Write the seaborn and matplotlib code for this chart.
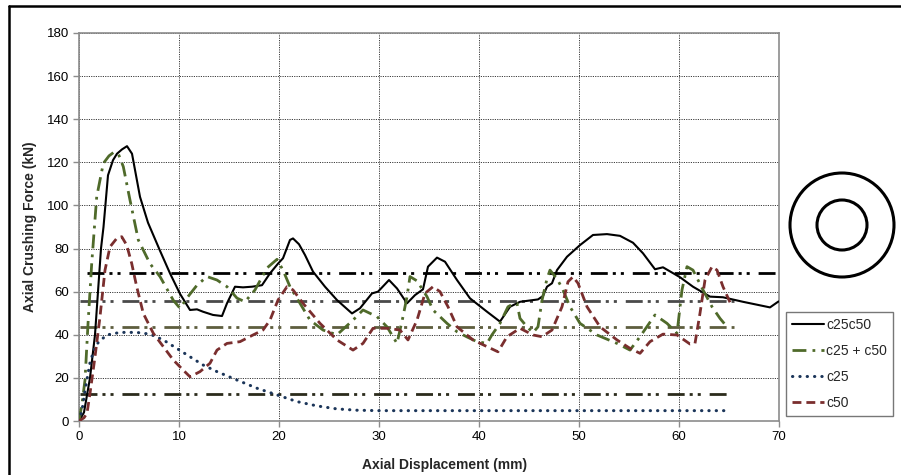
import matplotlib
matplotlib.use("Agg")
import matplotlib.pyplot as plt
import seaborn as sns
import pandas as pd
from matplotlib.lines import Line2D
from matplotlib.patches import Circle

# ---------------- data ----------------
c25c50_x = [0, 0.5, 0.8, 1.1, 1.6, 1.9, 2.2, 2.45, 2.9, 3.4, 3.8, 4.3, 4.8, 5.3, 6.1, 6.9, 8.1, 9.1,
            10.1, 11.1, 11.8, 12.4, 13.4, 14.3, 14.8, 15.6, 16.4, 17.3, 18.3, 19.1, 19.9, 20.4, 21.1,
            21.4, 22.0, 22.6, 23.4, 24.6, 25.8, 27.3, 28.1, 29.3, 29.9, 31.0, 31.8, 32.8, 33.6, 34.4,
            34.9, 35.8, 36.6, 37.8, 39.1, 40.8, 42.1, 43.1, 44.1, 45.9, 46.4, 46.8, 47.3, 47.8, 48.8,
            50.1, 51.4, 52.8, 54.1, 55.4, 56.4, 57.6, 58.4, 60.1, 61.4, 63.1, 64.4, 66.4, 69.1, 69.9, 70.0]
c25c50_y = [0, 4, 12, 20, 40, 60, 80, 90, 114, 121, 124, 126, 127.5, 124, 104, 92, 79, 68.5,
            59, 51.5, 51.8, 50.7, 49.2, 48.7, 54.6, 62.3, 62, 62.3, 63, 68.5, 73, 75.5, 84,
            84.7, 82, 77, 69.3, 62.3, 56.1, 49.9, 52.3, 59.2, 60, 65.4, 61.5, 54.6, 58.4, 61.1,
            71.6, 75.8, 73.9, 65.4, 56.9, 50.7, 46.1, 53, 55.3, 56.4, 58, 62.3, 63.9, 70, 76.2,
            81.6, 86.3, 86.7, 85.9, 82.7, 77.8, 70.4, 71.3, 66.7, 62.3, 57.7, 57.4, 55.3, 52.7, 55.3, 55.5]

sum_x = [0, 0.3, 0.6, 0.9, 1.27, 1.77, 2.43, 3.0, 3.43, 3.93, 4.43, 5.1, 5.93, 7.1, 8.1, 9.43, 10.1,
         10.9, 11.8, 12.8, 13.8, 14.8, 15.8, 16.6, 17.6, 18.8, 19.8, 20.4, 21.1, 22.1, 23.1, 24.4,
         25.8, 27.4, 28.4, 29.8, 30.8, 31.8, 32.4, 32.8, 33.1, 33.8, 34.8, 35.4, 36.8, 37.8, 38.8,
         39.8, 40.8, 41.3, 42.1, 42.9, 43.3, 43.8, 44.1, 44.8, 45.4, 45.9, 46.3, 46.8, 47.1, 47.8,
         48.4, 49.1, 50.1, 51.8, 53.8, 55.1, 56.1, 57.6, 58.8, 59.8, 60.3, 60.8, 61.4, 62.4, 63.3,
         64.1, 64.8]
sum_y = [0, 8, 19, 45, 73, 104, 119.5, 123, 124.5, 124, 118, 102.5, 84, 73, 67, 56, 52.3,
         57.7, 63, 67, 65.4, 62.3, 57, 55.3, 60.8, 71, 75, 70, 62.3, 54.6, 46.8, 42.2,
         40, 46.8, 51.5, 48.4, 43.7, 36, 48.4, 57.7, 67, 65, 57.7, 51.5, 45.3, 41.4, 39,
         36.8, 36, 40, 45.3, 53, 54, 54.6, 47.6, 43.7, 41, 43.7, 56, 66, 70, 66,
         60.8, 53, 45.3, 39.9, 36, 32.9, 39.1, 49.2, 45.3, 40.7, 60.8, 71.6, 70, 60.8, 53,
         47.6, 43.7]

c25_x = [0, 0.3, 0.6, 0.9, 1.1, 1.5, 1.93, 2.77, 4.1, 5.77, 7.1, 8.43, 9.77, 11.1, 12.4, 13.8,
         15.8, 17.8, 19.8, 21.8, 23.8, 25.8, 27.8, 30, 35, 40, 45, 50, 55, 60, 64.8]
c25_y = [0, 5, 14, 22, 27, 33, 36.5, 39.9, 41.1, 41.1, 40.3, 37.6, 33.7, 29.8, 26, 22.9,
         19, 15.2, 12.1, 9, 7, 5.6, 5, 4.8, 4.8, 4.8, 4.8, 4.8, 4.8, 4.8, 4.8]

c50_x = [0, 0.5, 0.8, 1.1, 1.6, 2.1, 2.6, 3.1, 3.77, 4.27, 4.77, 5.27, 5.77, 6.43, 7.43, 8.43, 9.43,
         10.4, 11.1, 12.1, 13.1, 13.8, 14.8, 16.1, 17.4, 18.4, 19.1, 19.9, 20.8, 21.4, 22.4, 24.1,
         25.8, 27.4, 28.4, 29.4, 30.8, 32.1, 32.9, 33.8, 34.6, 35.4, 36.1, 36.9, 37.8, 39.4, 40.8,
         41.9, 42.8, 44.1, 45.4, 46.3, 47.3, 48.3, 48.9, 49.4, 49.9, 50.8, 52.1, 53.8, 55.1, 56.1,
         57.1, 58.4, 59.8, 61.1, 61.6, 62.1, 62.6, 63.3, 63.8, 64.4, 65.3]
c50_y = [0, 1.5, 3.6, 12.8, 29.8, 48.4, 70, 80.8, 84.7, 85.5, 81.6, 73.1, 62.3, 49.9, 40.7, 34.5, 28.3,
         23.7, 20.5, 22.9, 26.8, 32.9, 36, 36.8, 39.9, 42.2, 46.8, 56.1, 62.3, 60.8, 54.6, 45.3,
         37.6, 32.9, 36, 43, 43, 42.2, 37.6, 46.8, 59.2, 62.3, 60, 53, 43.7, 37.6, 34.5,
         32.1, 39.1, 43, 39.9, 39.1, 42.2, 53, 64.6, 66.9, 63.9, 53, 43.7, 37.6, 33.7, 31.4,
         36.8, 40.3, 39.9, 35.7, 36, 50, 65.4, 71.6, 70, 62.3, 53]

# mean force levels (kN) and their x extents (mm)
mean_levels = [68.5, 55.5, 43.5, 12.5]
mean_start = [0.8, 0.1, 0.1, 0.1]
mean_end = [70.0, 65.5, 65.5, 65.0]

series_labels = ["c25c50", "c25 + c50", "c25", "c50"]
x_ticks = [0, 10, 20, 30, 40, 50, 60, 70]
y_ticks = [0, 20, 40, 60, 80, 100, 120, 140, 160, 180]

# ---------------- style ----------------
sns.set_theme(style="white")
plt.rcParams["font.family"] = ["Liberation Sans", "DejaVu Sans"]

W, H = 901, 475
fig = plt.figure(figsize=(W / 100, H / 100), dpi=100)
fig.patch.set_facecolor("white")
ax = fig.add_axes([79 / W, 1 - 421 / H, 700 / W, 388 / H])
ax.set_facecolor("white")

# mean lines
mean_colors = ["#000000", "#4a4a4a", "#5e5e3e", "#2b2b1c"]
dashdotdot = (0, (6.1, 1.8, 1.1, 1.8, 1.1, 3.2))
for lvl, xs, xe, col in zip(mean_levels, mean_start, mean_end, mean_colors):
    d = pd.DataFrame({"x": [xs, xe], "y": [lvl, lvl]})
    sns.lineplot(data=d, x="x", y="y", ax=ax, color=col, lw=2.0,
                 linestyle=dashdotdot, legend=False, zorder=2, estimator=None)

styles = [
    dict(color="#000000", lw=1.5, linestyle="-"),
    dict(color="#4f6a2a", lw=2.0, linestyle=(0, (5.0, 2.2, 1.0, 2.2))),
    dict(color="#1b3559", lw=2.2, linestyle=(0, (0.1, 2.3)), dash_capstyle="round"),
    dict(color="#7a2e2e", lw=2.0, linestyle=(0, (3.2, 1.8))),
]
data_xy = [(c25c50_x, c25c50_y), (sum_x, sum_y), (c25_x, c25_y), (c50_x, c50_y)]
handles = []
for (xs, ys), lab, st in zip(data_xy, series_labels, styles):
    d = pd.DataFrame({"x": xs, "y": ys})
    sns.lineplot(data=d, x="x", y="y", ax=ax, legend=False, zorder=3, estimator=None,
                 sort=False, **st)
    handles.append(Line2D([], [], label=lab, **st))

ax.set_xlim(0, 70)
ax.set_ylim(0, 180)
ax.set_xticks(x_ticks)
ax.set_yticks(y_ticks)
ax.grid(True, which="major", linestyle=(0, (1.2, 1.2)), color="#3a3a3a", lw=0.7)
ax.set_axisbelow(True)
for s in ax.spines.values():
    s.set_color("#8c8c8c")
    s.set_linewidth(1.2)
ax.tick_params(axis="both", which="major", direction="out", length=4, width=1,
               color="#8c8c8c", labelsize=9.5, labelcolor="#000000", pad=3, left=True, bottom=True)

ax.set_xlabel("Axial Displacement (mm)", fontsize=10, fontweight="bold")
ax.xaxis.set_label_coords((445 - 79) / 700, -(458 - 421) / 388)
ax.set_ylabel("Axial Crushing Force (kN)", fontsize=10, fontweight="bold")
ax.yaxis.set_label_coords(-(79 - 37) / 700, 0.5)

leg = fig.legend(handles=handles, loc="upper left",
                 bbox_to_anchor=(786 / W, 1 - 312 / H), bbox_transform=fig.transFigure,
                 frameon=True, fancybox=False, fontsize=10.0, handlelength=2.3,
                 handletextpad=0.15, labelspacing=0.85, borderpad=0.45, borderaxespad=0)
leg.get_frame().set_edgecolor("#555555")
leg.get_frame().set_linewidth(1.0)

# tube cross-section icon
for r in [0.52, 0.25]:
    fig.add_artist(Circle((8.42, (H - 225) / 100), r, transform=fig.dpi_scale_trans,
                          fill=False, ec="black", lw=2.2))

# image border (top & left)
fig.add_artist(Line2D([8.5 / W, 1], [1 - 6 / H, 1 - 6 / H], transform=fig.transFigure,
                      color="black", lw=1.8))
fig.add_artist(Line2D([8.5 / W, 8.5 / W], [0, 1 - 6 / H], transform=fig.transFigure,
                      color="black", lw=1.8))

fig.savefig("out.png", dpi=100)
